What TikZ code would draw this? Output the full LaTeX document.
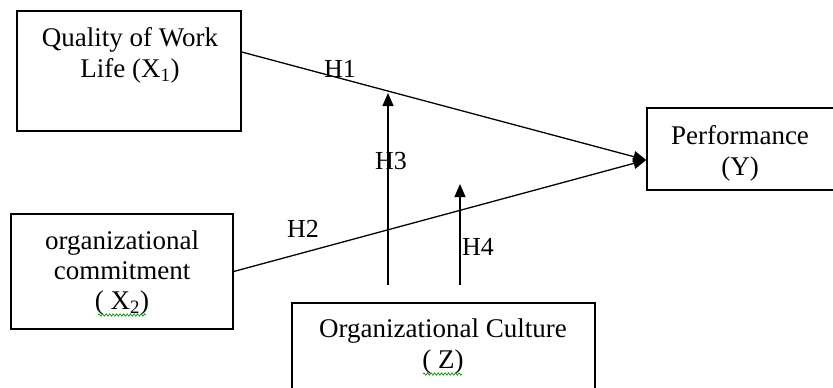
\documentclass[tikz,border=0pt]{standalone}
\usepackage{fontspec}
\setmainfont{Liberation Serif}
\usetikzlibrary{arrows.meta,decorations.pathmorphing,calc}
\begin{document}
\begin{tikzpicture}[x=1pt,y=-1pt,
  box/.style={draw,line width=1.4pt,rectangle,inner sep=0pt},
  txt/.style={align=center,font=\fontsize{27}{31}\selectfont,inner sep=0pt},
  conn/.style={line width=1.3pt,-{Triangle[length=13pt,width=11pt]}},
  hl/.style={font=\fontsize{26}{30}\selectfont,inner sep=0pt},
  spell/.style={draw=green!60!black,line width=0.7pt,decorate,decoration={snake,amplitude=1.2pt,segment length=3.5pt}}]
\useasboundingbox (0,0) rectangle (833,388);
% boxes
\node[box,minimum width=224pt,minimum height=120pt] (x1) at (129,71) {};
\node[txt] (x1t) at (130,55) {Quality of Work\\Life (X\textsubscript{1})};
\node[box,minimum width=222pt,minimum height=115pt] (x2) at (122,271.5) {};
\node[txt,font=\fontsize{27}{30}\selectfont] (x2t) at (122,273) {organizational\\commitment\\( X\textsubscript{2})};
\node[box,minimum width=188pt,minimum height=82pt] (y) at (741,149) {};
\node[txt] (yt) at (740,153) {Performance\\(Y)};
\node[box,minimum width=303pt,minimum height=97pt] (z) at (443.5,351.5) {};
\node[txt] (zt) at (443,347) {Organizational Culture\\( Z)};
% spell-check underlines
\coordinate (s1a) at (98,315); \coordinate (s1b) at (146,315);
\coordinate (s2a) at (423,374); \coordinate (s2b) at (462,374);
\path[spell] (s1a) -- (s1b);
\path[spell] (s2a) -- (s2b);
% connectors
\draw[conn] ([yshift=19pt]x1.east) -- ([yshift=-11pt]y.west);
\draw[conn] (x2.east) -- ([yshift=-11pt]y.west);
\coordinate (h3s) at (388,285); \coordinate (h3e) at (388,93);
\coordinate (h4s) at (460,285); \coordinate (h4e) at (460,184);
\draw[conn] (h3s) -- (h3e);
\draw[conn] (h4s) -- (h4e);
% labels
\node[hl] (lh1) at (340,69) {H1};
\node[hl] (lh2) at (303,229) {H2};
\node[hl] (lh3) at (391,161) {H3};
\node[hl] (lh4) at (478,247) {H4};
\end{tikzpicture}
\end{document}
